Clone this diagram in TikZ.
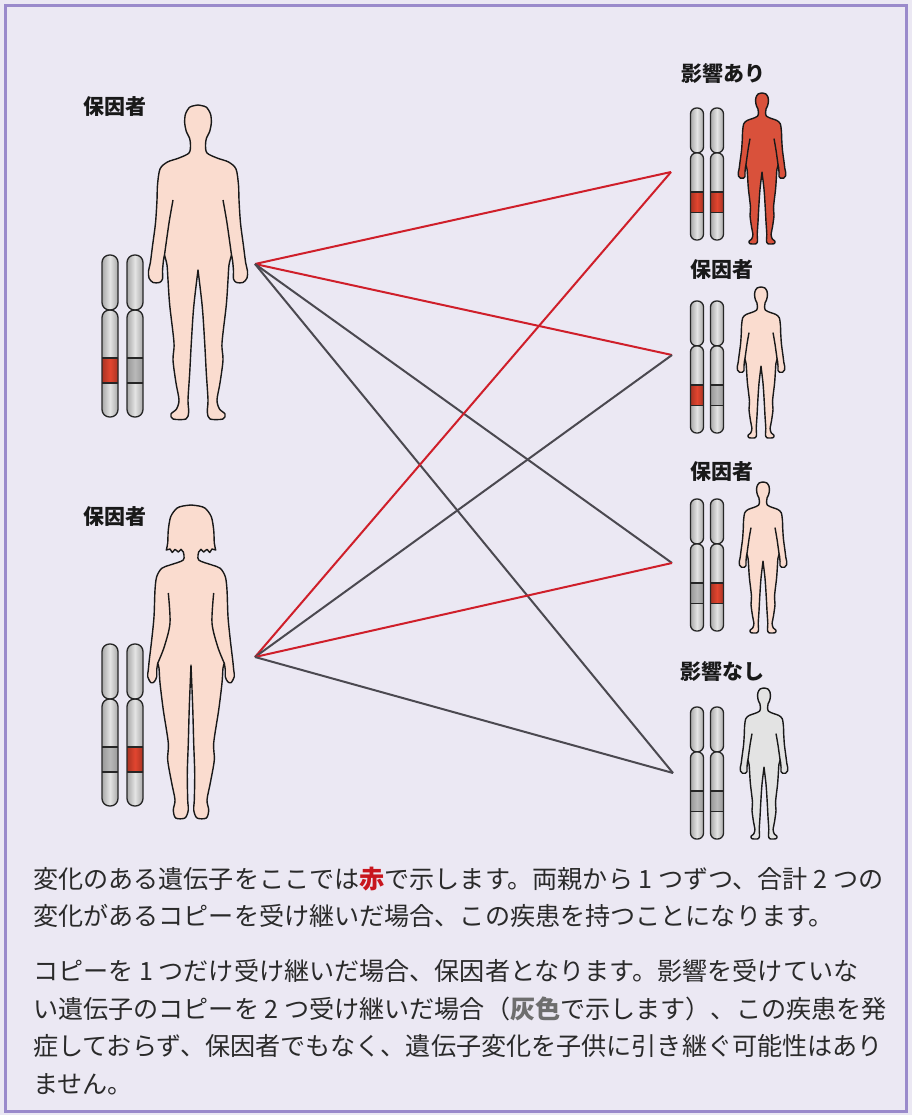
\documentclass[tikz,border=0pt]{standalone}
\usepackage{fontspec}
\setmainfont{Noto Sans CJK JP}

\definecolor{framebg}{HTML}{EBE8F3}
\definecolor{framerule}{HTML}{9A8ACB}
\definecolor{skin}{HTML}{FADCCF}
\definecolor{sick}{HTML}{D9513B}
\definecolor{healthy}{HTML}{E3E3E3}
\definecolor{chromedge}{HTML}{A9A9A9}
\definecolor{chromlight}{HTML}{E4E4E4}
\definecolor{bandred}{HTML}{E2452F}
\definecolor{inheritred}{HTML}{CF1F2A}
\definecolor{inheritgrey}{HTML}{4B4950}
\definecolor{textbody}{HTML}{2A2A2A}
\definecolor{textred}{HTML}{C8161E}
\definecolor{textgrey}{HTML}{6E6E6E}

\tikzset{
  figline/.style={draw=black!90, line width=1.4pt, line join=round},
  chromfill/.style={left color=chromedge, right color=chromedge, middle color=chromlight},
  chromline/.style={draw=black!85, line width=1.3pt},
  redband/.style={left color=bandred!75!black, right color=bandred!75!black, middle color=bandred},
  greyband/.style={left color=gray!80, right color=gray!80, middle color=gray!55},
  bigchrom/.style={rounded corners=7.5pt},
  smallchrom/.style={scale=0.815, rounded corners=6pt},
  redline/.style={draw=inheritred, line width=2pt},
  greyline/.style={draw=inheritgrey, line width=2pt},
  tag/.style={font=\bfseries\fontsize{21}{21}\selectfont, text=black!90},
  bodytext/.style={align=left, inner sep=0pt, text=textbody, font=\fontsize{25.1}{37.5}\selectfont},
  % chromosome pair member, band style as argument
  pics/chrom/.style={code={
    \path[chromfill] (-8,0) rectangle (8,55);
    \path[chromfill] (-8,55) rectangle (8,162);
    \path[#1, sharp corners] (-8,103) rectangle (8,128);
    \draw[chromline, sharp corners] (-8,103) -- (8,103) (-8,128) -- (8,128);
    \draw[chromline] (-8,0) rectangle (8,55);
    \draw[chromline] (-8,55) rectangle (8,162);
  }},
  % male figure, fill colour as argument
  pics/man/.style={code={
    \filldraw[figline, fill=#1]
      plot[smooth] coordinates {(0,0) (8,2) (12.5,9) (13.3,18) (11.5,27) (8.5,33) (7.5,40) (9,48) (19,53) (30.5,57) (38,64) (40.5,80) (41,95) (42.5,118) (45.5,141) (47.7,158) (49.5,166) (49,173) (45,177.5) (38.5,177.5) (35.5,174) (35.5,166) (34.5,155) (33.5,150)}
      -- plot[smooth] coordinates {(33.5,150) (31,160) (30,175) (28.3,200) (24,238) (25,255) (22,278) (19,295) (21.5,304) (27,309) (25,314) (12,314) (9.3,307) (10,295) (8.3,268) (6.7,238) (4.3,202) (0,165)}
      -- plot[smooth] coordinates {(0,165) (-4.3,202) (-6.7,238) (-8.3,268) (-10,295) (-9.3,307) (-12,314) (-25,314) (-27,309) (-21.5,304) (-19,295) (-22,278) (-25,255) (-24,238) (-28.3,200) (-30,175) (-31,160) (-33.5,150)}
      -- plot[smooth] coordinates {(-33.5,150) (-34.5,155) (-35.5,166) (-35.5,174) (-38.5,177.5) (-45,177.5) (-49,173) (-49.5,166) (-47.7,158) (-45.5,141) (-42.5,118) (-41,95) (-40.5,80) (-38,64) (-30.5,57) (-19,53) (-9,48) (-7.5,40) (-8.5,33) (-11.5,27) (-13.3,18) (-12.5,9) (-8,2) (0,0)}
      -- cycle;
    \draw[figline] plot[smooth] coordinates {(25,95) (29,118) (33.5,150)};
    \draw[figline] plot[smooth] coordinates {(-25,95) (-29,118) (-33.5,150)};
  }},
  % female figure
  pics/woman/.style={code={
    \filldraw[figline, fill=#1]
      plot[smooth] coordinates {(0,0) (8,1) (14.3,3.3) (20.3,11.7) (22.7,25) (23.3,38) (24.7,45)}
      -- (21,44) -- (18.7,47.5) -- (16,44.3) -- (12.7,47) -- (10,44.3) -- (7.7,47)
      -- plot[smooth] coordinates {(7.7,47) (7.7,55) (21,60) (29.3,63.3) (34.3,71.7) (36,85) (37,111.7) (39.3,135) (41.7,155) (42.7,165) (43.3,171.7) (40,177.7) (36.7,176.7) (34.3,171.7) (34.3,165) (33.3,158.3)}
      -- plot[smooth] coordinates {(33.3,158.3) (32,163) (31,178) (27.7,205) (22.7,238) (23.3,255) (19.3,278) (16,295) (17.7,305) (15.3,313) (6,313) (2.7,305) (3.3,295) (3.7,268) (2.7,238) (1.7,202) (0,160)}
      -- plot[smooth] coordinates {(0,160) (-1.7,202) (-2.7,238) (-3.7,268) (-3.3,295) (-2.7,305) (-6,313) (-15.3,313) (-17.7,305) (-16,295) (-19.3,278) (-23.3,255) (-22.7,238) (-27.7,205) (-31,178) (-32,163) (-33.3,158.3)}
      -- plot[smooth] coordinates {(-33.3,158.3) (-34.3,165) (-34.3,171.7) (-36.7,176.7) (-40,177.7) (-43.3,171.7) (-42.7,165) (-41.7,155) (-39.3,135) (-37,111.7) (-36,85) (-34.3,71.7) (-29.3,63.3) (-21,60) (-7.7,55) (-7.7,47)}
      -- (-10,44.3) -- (-12.7,47) -- (-16,44.3) -- (-18.7,47.5) -- (-21,44)
      -- plot[smooth] coordinates {(-24.7,45) (-23.3,38) (-22.7,25) (-20.3,11.7) (-14.3,3.3) (-8,1) (0,0)}
      -- cycle;
    \draw[figline] plot[smooth] coordinates {(22.7,88) (21,118) (26.7,141.7) (33.3,158.3)};
    \draw[figline] plot[smooth] coordinates {(-22.7,88) (-21,118) (-26.7,141.7) (-33.3,158.3)};
  }},
}

\begin{document}
\begin{tikzpicture}[x=1pt, y=-1pt]
\useasboundingbox[fill=framebg] (0,0) rectangle (912,1115);
\draw[draw=framerule, fill=framebg, line width=2.5pt] (5.5,5.5) rectangle (906.5,1111.5);

% parents
\pic at (198,105) {man=skin};
\pic at (191,505) {woman=skin};
\pic[bigchrom] at (110,255) {chrom=redband};
\pic[bigchrom] at (135,255) {chrom=greyband};
\pic[bigchrom] at (110,644) {chrom=greyband};
\pic[bigchrom] at (135,644) {chrom=redband};
\node[tag] (dadtag) at (115,107) {保因者};
\node[tag] (momtag) at (115,517) {保因者};

% children
\pic[scale=0.48] at (762,93) {man=sick};
\pic[smallchrom] at (697,108) {chrom=redband};
\pic[smallchrom] at (717,108) {chrom=redband};
\node[tag] (kidtag1) at (723,74) {影響あり};

\pic[scale=0.48] at (761,287) {man=skin};
\pic[smallchrom] at (697,301) {chrom=redband};
\pic[smallchrom] at (717,301) {chrom=greyband};
\node[tag] (kidtag2) at (722,270) {保因者};

\pic[scale=0.48] at (763,482) {man=skin};
\pic[smallchrom] at (697,499) {chrom=greyband};
\pic[smallchrom] at (717,499) {chrom=redband};
\node[tag] (kidtag3) at (722,472) {保因者};

\pic[scale=0.48] at (764,688) {man=healthy};
\pic[smallchrom] at (697,707) {chrom=greyband};
\pic[smallchrom] at (717,707) {chrom=greyband};
\node[tag] (kidtag4) at (722,672) {影響なし};

% inheritance lines
\coordinate (dad) at (255,264);
\coordinate (mom) at (255,657);
\coordinate (kid1) at (671,172);
\coordinate (kid2) at (672,355);
\coordinate (kid3) at (672,563);
\coordinate (kid4) at (673,773);
\draw[redline] (dad) -- (kid1);
\draw[redline] (dad) -- (kid2);
\draw[greyline] (dad) -- (kid3);
\draw[greyline] (dad) -- (kid4);
\draw[redline] (mom) -- (kid1);
\draw[greyline] (mom) -- (kid2);
\draw[redline] (mom) -- (kid3);
\draw[greyline] (mom) -- (kid4);

% explanation (base anchor sits on the last line)
\node[bodytext, anchor=base west] (para1) at (33,925.5) {変化のある遺伝子をここでは{\bfseries\color{textred}赤}で示します。両親から 1 つずつ、合計 2 つの\\
変化があるコピーを受け継いだ場合、この疾患を持つことになります。};
\node[bodytext, anchor=base west] (para2) at (33,1093) {コピーを 1 つだけ受け継いだ場合、保因者となります。影響を受けていな\\
い遺伝子のコピーを 2 つ受け継いだ場合（{\bfseries\color{textgrey}灰色}で示します）、この疾患を発\\
症しておらず、保因者でもなく、遺伝子変化を子供に引き継ぐ可能性はあり\\
ません。};
\end{tikzpicture}
\end{document}
